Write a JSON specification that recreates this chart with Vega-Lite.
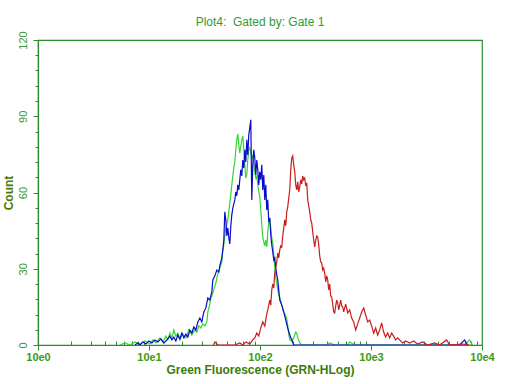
{
  "$schema": "https://vega.github.io/schema/vega-lite/v6.json",
  "width": 444,
  "height": 305,
  "autosize": {"type": "none"},
  "padding": {"left": 38, "top": 40, "right": 30, "bottom": 39},
  "background": "white",
  "title": {
    "text": "Plot4:\u00a0 Gated by: Gate 1",
    "font": "Liberation Sans",
    "fontSize": 12,
    "fontWeight": "normal",
    "color": "#339933",
    "anchor": "middle",
    "offset": 2
  },
  "config": {
    "view": {"stroke": "#2e8b2e", "strokeWidth": 1.2},
    "axis": {"domainColor": "#2e8b2e", "tickColor": "#2e8b2e", "grid": false, "domainWidth": 1.2, "tickWidth": 1}
  },
  "data": {
    "values": [
      {"series": "green", "log10_GRN": 0.738, "count": 0},
      {"series": "green", "log10_GRN": 0.783, "count": 0.8},
      {"series": "green", "log10_GRN": 0.828, "count": 0},
      {"series": "green", "log10_GRN": 0.873, "count": 1.2},
      {"series": "green", "log10_GRN": 0.918, "count": 0.4},
      {"series": "green", "log10_GRN": 0.963, "count": 1.6},
      {"series": "green", "log10_GRN": 1.008, "count": 0.4},
      {"series": "green", "log10_GRN": 1.035, "count": 2.0},
      {"series": "green", "log10_GRN": 1.062, "count": 0.8},
      {"series": "green", "log10_GRN": 1.098, "count": 2.8},
      {"series": "green", "log10_GRN": 1.125, "count": 1.2},
      {"series": "green", "log10_GRN": 1.152, "count": 3.5},
      {"series": "green", "log10_GRN": 1.170, "count": 2.0},
      {"series": "green", "log10_GRN": 1.188, "count": 4.7},
      {"series": "green", "log10_GRN": 1.206, "count": 2.8},
      {"series": "green", "log10_GRN": 1.224, "count": 5.9},
      {"series": "green", "log10_GRN": 1.242, "count": 3.5},
      {"series": "green", "log10_GRN": 1.260, "count": 4.7},
      {"series": "green", "log10_GRN": 1.278, "count": 2.0},
      {"series": "green", "log10_GRN": 1.305, "count": 4.3},
      {"series": "green", "log10_GRN": 1.332, "count": 2.8},
      {"series": "green", "log10_GRN": 1.359, "count": 5.9},
      {"series": "green", "log10_GRN": 1.386, "count": 3.9},
      {"series": "green", "log10_GRN": 1.413, "count": 5.9},
      {"series": "green", "log10_GRN": 1.431, "count": 5.1},
      {"series": "green", "log10_GRN": 1.449, "count": 7.5},
      {"series": "green", "log10_GRN": 1.467, "count": 6.7},
      {"series": "green", "log10_GRN": 1.485, "count": 8.3},
      {"series": "green", "log10_GRN": 1.503, "count": 7.5},
      {"series": "green", "log10_GRN": 1.521, "count": 9.1},
      {"series": "green", "log10_GRN": 1.530, "count": 13.0},
      {"series": "green", "log10_GRN": 1.548, "count": 16.1},
      {"series": "green", "log10_GRN": 1.557, "count": 18.5},
      {"series": "green", "log10_GRN": 1.566, "count": 19.3},
      {"series": "green", "log10_GRN": 1.584, "count": 21.7},
      {"series": "green", "log10_GRN": 1.602, "count": 24.4},
      {"series": "green", "log10_GRN": 1.620, "count": 28.0},
      {"series": "green", "log10_GRN": 1.638, "count": 30.3},
      {"series": "green", "log10_GRN": 1.656, "count": 32.7},
      {"series": "green", "log10_GRN": 1.665, "count": 37.4},
      {"series": "green", "log10_GRN": 1.674, "count": 39.4},
      {"series": "green", "log10_GRN": 1.683, "count": 42.9},
      {"series": "green", "log10_GRN": 1.692, "count": 46.1},
      {"series": "green", "log10_GRN": 1.701, "count": 47.6},
      {"series": "green", "log10_GRN": 1.710, "count": 49.2},
      {"series": "green", "log10_GRN": 1.719, "count": 52.4},
      {"series": "green", "log10_GRN": 1.728, "count": 55.9},
      {"series": "green", "log10_GRN": 1.737, "count": 59.1},
      {"series": "green", "log10_GRN": 1.746, "count": 63.0},
      {"series": "green", "log10_GRN": 1.755, "count": 66.5},
      {"series": "green", "log10_GRN": 1.764, "count": 69.7},
      {"series": "green", "log10_GRN": 1.773, "count": 72.0},
      {"series": "green", "log10_GRN": 1.782, "count": 76.8},
      {"series": "green", "log10_GRN": 1.791, "count": 80.7},
      {"series": "green", "log10_GRN": 1.800, "count": 83.1},
      {"series": "green", "log10_GRN": 1.809, "count": 78.7},
      {"series": "green", "log10_GRN": 1.818, "count": 75.6},
      {"series": "green", "log10_GRN": 1.827, "count": 78.3},
      {"series": "green", "log10_GRN": 1.836, "count": 80.7},
      {"series": "green", "log10_GRN": 1.845, "count": 82.3},
      {"series": "green", "log10_GRN": 1.854, "count": 76.8},
      {"series": "green", "log10_GRN": 1.863, "count": 70.9},
      {"series": "green", "log10_GRN": 1.872, "count": 65.7},
      {"series": "green", "log10_GRN": 1.881, "count": 66.9},
      {"series": "green", "log10_GRN": 1.890, "count": 72.8},
      {"series": "green", "log10_GRN": 1.899, "count": 76.8},
      {"series": "green", "log10_GRN": 1.908, "count": 77.6},
      {"series": "green", "log10_GRN": 1.917, "count": 76.0},
      {"series": "green", "log10_GRN": 1.926, "count": 73.6},
      {"series": "green", "log10_GRN": 1.935, "count": 74.4},
      {"series": "green", "log10_GRN": 1.944, "count": 70.9},
      {"series": "green", "log10_GRN": 1.953, "count": 68.1},
      {"series": "green", "log10_GRN": 1.962, "count": 65.7},
      {"series": "green", "log10_GRN": 1.971, "count": 66.5},
      {"series": "green", "log10_GRN": 1.980, "count": 63.0},
      {"series": "green", "log10_GRN": 1.989, "count": 60.2},
      {"series": "green", "log10_GRN": 1.998, "count": 58.3},
      {"series": "green", "log10_GRN": 2.007, "count": 53.1},
      {"series": "green", "log10_GRN": 2.016, "count": 47.2},
      {"series": "green", "log10_GRN": 2.025, "count": 42.5},
      {"series": "green", "log10_GRN": 2.034, "count": 40.6},
      {"series": "green", "log10_GRN": 2.043, "count": 39.0},
      {"series": "green", "log10_GRN": 2.052, "count": 41.3},
      {"series": "green", "log10_GRN": 2.061, "count": 38.6},
      {"series": "green", "log10_GRN": 2.070, "count": 44.5},
      {"series": "green", "log10_GRN": 2.079, "count": 48.4},
      {"series": "green", "log10_GRN": 2.088, "count": 49.2},
      {"series": "green", "log10_GRN": 2.097, "count": 46.1},
      {"series": "green", "log10_GRN": 2.106, "count": 42.1},
      {"series": "green", "log10_GRN": 2.115, "count": 40.2},
      {"series": "green", "log10_GRN": 2.124, "count": 35.4},
      {"series": "green", "log10_GRN": 2.133, "count": 30.3},
      {"series": "green", "log10_GRN": 2.142, "count": 26.4},
      {"series": "green", "log10_GRN": 2.151, "count": 24.4},
      {"series": "green", "log10_GRN": 2.160, "count": 21.7},
      {"series": "green", "log10_GRN": 2.169, "count": 19.7},
      {"series": "green", "log10_GRN": 2.178, "count": 18.9},
      {"series": "green", "log10_GRN": 2.196, "count": 15.7},
      {"series": "green", "log10_GRN": 2.214, "count": 13.0},
      {"series": "green", "log10_GRN": 2.232, "count": 11.4},
      {"series": "green", "log10_GRN": 2.241, "count": 10.6},
      {"series": "green", "log10_GRN": 2.250, "count": 7.5},
      {"series": "green", "log10_GRN": 2.259, "count": 4.3},
      {"series": "green", "log10_GRN": 2.268, "count": 2.0},
      {"series": "green", "log10_GRN": 2.286, "count": 1.6},
      {"series": "green", "log10_GRN": 2.304, "count": 2.8},
      {"series": "green", "log10_GRN": 2.322, "count": 5.1},
      {"series": "green", "log10_GRN": 2.331, "count": 4.7},
      {"series": "green", "log10_GRN": 2.340, "count": 2.8},
      {"series": "green", "log10_GRN": 2.358, "count": 0.8},
      {"series": "green", "log10_GRN": 2.376, "count": 0},
      {"series": "green", "log10_GRN": 2.600, "count": 0},
      {"series": "green", "log10_GRN": 2.628, "count": 0.8},
      {"series": "green", "log10_GRN": 2.673, "count": 0},
      {"series": "green", "log10_GRN": 2.790, "count": 0},
      {"series": "green", "log10_GRN": 2.808, "count": 1.2},
      {"series": "green", "log10_GRN": 2.853, "count": 0},
      {"series": "green", "log10_GRN": 3.843, "count": 0},
      {"series": "green", "log10_GRN": 3.888, "count": 2.0},
      {"series": "green", "log10_GRN": 3.915, "count": 0},
      {"series": "blue", "log10_GRN": 0.873, "count": 0},
      {"series": "blue", "log10_GRN": 0.900, "count": 0.8},
      {"series": "blue", "log10_GRN": 0.918, "count": 0},
      {"series": "blue", "log10_GRN": 0.945, "count": 1.2},
      {"series": "blue", "log10_GRN": 0.972, "count": 0.4},
      {"series": "blue", "log10_GRN": 0.999, "count": 1.6},
      {"series": "blue", "log10_GRN": 1.026, "count": 0.8},
      {"series": "blue", "log10_GRN": 1.053, "count": 2.0},
      {"series": "blue", "log10_GRN": 1.080, "count": 1.2},
      {"series": "blue", "log10_GRN": 1.107, "count": 2.4},
      {"series": "blue", "log10_GRN": 1.134, "count": 0.8},
      {"series": "blue", "log10_GRN": 1.161, "count": 2.0},
      {"series": "blue", "log10_GRN": 1.188, "count": 3.5},
      {"series": "blue", "log10_GRN": 1.206, "count": 2.0},
      {"series": "blue", "log10_GRN": 1.224, "count": 3.1},
      {"series": "blue", "log10_GRN": 1.242, "count": 1.6},
      {"series": "blue", "log10_GRN": 1.260, "count": 3.9},
      {"series": "blue", "log10_GRN": 1.278, "count": 2.4},
      {"series": "blue", "log10_GRN": 1.296, "count": 4.7},
      {"series": "blue", "log10_GRN": 1.314, "count": 2.8},
      {"series": "blue", "log10_GRN": 1.332, "count": 4.3},
      {"series": "blue", "log10_GRN": 1.350, "count": 3.1},
      {"series": "blue", "log10_GRN": 1.368, "count": 5.9},
      {"series": "blue", "log10_GRN": 1.386, "count": 4.7},
      {"series": "blue", "log10_GRN": 1.404, "count": 7.1},
      {"series": "blue", "log10_GRN": 1.422, "count": 5.9},
      {"series": "blue", "log10_GRN": 1.440, "count": 9.1},
      {"series": "blue", "log10_GRN": 1.458, "count": 10.6},
      {"series": "blue", "log10_GRN": 1.476, "count": 9.1},
      {"series": "blue", "log10_GRN": 1.494, "count": 13.0},
      {"series": "blue", "log10_GRN": 1.512, "count": 14.6},
      {"series": "blue", "log10_GRN": 1.530, "count": 18.5},
      {"series": "blue", "log10_GRN": 1.548, "count": 17.7},
      {"series": "blue", "log10_GRN": 1.566, "count": 20.9},
      {"series": "blue", "log10_GRN": 1.575, "count": 25.6},
      {"series": "blue", "log10_GRN": 1.593, "count": 27.2},
      {"series": "blue", "log10_GRN": 1.611, "count": 29.5},
      {"series": "blue", "log10_GRN": 1.629, "count": 28.7},
      {"series": "blue", "log10_GRN": 1.638, "count": 31.1},
      {"series": "blue", "log10_GRN": 1.656, "count": 34.3},
      {"series": "blue", "log10_GRN": 1.665, "count": 37.4},
      {"series": "blue", "log10_GRN": 1.674, "count": 41.3},
      {"series": "blue", "log10_GRN": 1.683, "count": 52.4},
      {"series": "blue", "log10_GRN": 1.692, "count": 49.2},
      {"series": "blue", "log10_GRN": 1.701, "count": 42.9},
      {"series": "blue", "log10_GRN": 1.710, "count": 46.1},
      {"series": "blue", "log10_GRN": 1.719, "count": 42.1},
      {"series": "blue", "log10_GRN": 1.728, "count": 39.8},
      {"series": "blue", "log10_GRN": 1.737, "count": 46.9},
      {"series": "blue", "log10_GRN": 1.746, "count": 51.2},
      {"series": "blue", "log10_GRN": 1.755, "count": 53.9},
      {"series": "blue", "log10_GRN": 1.773, "count": 57.1},
      {"series": "blue", "log10_GRN": 1.782, "count": 60.2},
      {"series": "blue", "log10_GRN": 1.791, "count": 58.7},
      {"series": "blue", "log10_GRN": 1.800, "count": 63.0},
      {"series": "blue", "log10_GRN": 1.809, "count": 61.0},
      {"series": "blue", "log10_GRN": 1.818, "count": 65.0},
      {"series": "blue", "log10_GRN": 1.827, "count": 68.9},
      {"series": "blue", "log10_GRN": 1.836, "count": 66.5},
      {"series": "blue", "log10_GRN": 1.845, "count": 72.8},
      {"series": "blue", "log10_GRN": 1.854, "count": 69.7},
      {"series": "blue", "log10_GRN": 1.863, "count": 76.8},
      {"series": "blue", "log10_GRN": 1.872, "count": 72.0},
      {"series": "blue", "log10_GRN": 1.881, "count": 80.7},
      {"series": "blue", "log10_GRN": 1.890, "count": 74.8},
      {"series": "blue", "log10_GRN": 1.899, "count": 82.7},
      {"series": "blue", "log10_GRN": 1.908, "count": 85.4},
      {"series": "blue", "log10_GRN": 1.917, "count": 88.6},
      {"series": "blue", "log10_GRN": 1.926, "count": 57.1},
      {"series": "blue", "log10_GRN": 1.935, "count": 70.9},
      {"series": "blue", "log10_GRN": 1.944, "count": 76.8},
      {"series": "blue", "log10_GRN": 1.953, "count": 73.6},
      {"series": "blue", "log10_GRN": 1.962, "count": 66.9},
      {"series": "blue", "log10_GRN": 1.971, "count": 72.8},
      {"series": "blue", "log10_GRN": 1.980, "count": 68.9},
      {"series": "blue", "log10_GRN": 1.989, "count": 63.0},
      {"series": "blue", "log10_GRN": 1.998, "count": 68.1},
      {"series": "blue", "log10_GRN": 2.007, "count": 65.0},
      {"series": "blue", "log10_GRN": 2.016, "count": 70.9},
      {"series": "blue", "log10_GRN": 2.025, "count": 61.0},
      {"series": "blue", "log10_GRN": 2.034, "count": 66.9},
      {"series": "blue", "log10_GRN": 2.043, "count": 57.1},
      {"series": "blue", "log10_GRN": 2.052, "count": 63.0},
      {"series": "blue", "log10_GRN": 2.061, "count": 53.1},
      {"series": "blue", "log10_GRN": 2.070, "count": 57.1},
      {"series": "blue", "log10_GRN": 2.079, "count": 48.4},
      {"series": "blue", "log10_GRN": 2.088, "count": 50.0},
      {"series": "blue", "log10_GRN": 2.097, "count": 43.3},
      {"series": "blue", "log10_GRN": 2.106, "count": 39.4},
      {"series": "blue", "log10_GRN": 2.115, "count": 36.6},
      {"series": "blue", "log10_GRN": 2.124, "count": 33.5},
      {"series": "blue", "log10_GRN": 2.133, "count": 34.3},
      {"series": "blue", "log10_GRN": 2.142, "count": 30.3},
      {"series": "blue", "log10_GRN": 2.151, "count": 27.6},
      {"series": "blue", "log10_GRN": 2.160, "count": 25.6},
      {"series": "blue", "log10_GRN": 2.169, "count": 21.7},
      {"series": "blue", "log10_GRN": 2.178, "count": 17.7},
      {"series": "blue", "log10_GRN": 2.196, "count": 15.7},
      {"series": "blue", "log10_GRN": 2.214, "count": 13.0},
      {"series": "blue", "log10_GRN": 2.232, "count": 9.8},
      {"series": "blue", "log10_GRN": 2.250, "count": 6.7},
      {"series": "blue", "log10_GRN": 2.268, "count": 3.9},
      {"series": "blue", "log10_GRN": 2.286, "count": 2.0},
      {"series": "blue", "log10_GRN": 2.304, "count": 0},
      {"series": "blue", "log10_GRN": 3.798, "count": 0},
      {"series": "blue", "log10_GRN": 3.843, "count": 2.0},
      {"series": "blue", "log10_GRN": 3.870, "count": 0},
      {"series": "red", "log10_GRN": 1.580, "count": 0},
      {"series": "red", "log10_GRN": 1.593, "count": 1.2},
      {"series": "red", "log10_GRN": 1.620, "count": 0},
      {"series": "red", "log10_GRN": 1.773, "count": 0},
      {"series": "red", "log10_GRN": 1.818, "count": 0.8},
      {"series": "red", "log10_GRN": 1.845, "count": 0},
      {"series": "red", "log10_GRN": 1.872, "count": 1.2},
      {"series": "red", "log10_GRN": 1.908, "count": 0.4},
      {"series": "red", "log10_GRN": 1.935, "count": 2.0},
      {"series": "red", "log10_GRN": 1.953, "count": 2.8},
      {"series": "red", "log10_GRN": 1.971, "count": 4.7},
      {"series": "red", "log10_GRN": 1.989, "count": 3.5},
      {"series": "red", "log10_GRN": 2.007, "count": 6.7},
      {"series": "red", "log10_GRN": 2.025, "count": 9.1},
      {"series": "red", "log10_GRN": 2.043, "count": 7.5},
      {"series": "red", "log10_GRN": 2.061, "count": 12.2},
      {"series": "red", "log10_GRN": 2.070, "count": 13.8},
      {"series": "red", "log10_GRN": 2.088, "count": 17.7},
      {"series": "red", "log10_GRN": 2.097, "count": 15.7},
      {"series": "red", "log10_GRN": 2.106, "count": 21.7},
      {"series": "red", "log10_GRN": 2.115, "count": 24.0},
      {"series": "red", "log10_GRN": 2.124, "count": 22.4},
      {"series": "red", "log10_GRN": 2.133, "count": 28.3},
      {"series": "red", "log10_GRN": 2.142, "count": 30.3},
      {"series": "red", "log10_GRN": 2.151, "count": 32.7},
      {"series": "red", "log10_GRN": 2.160, "count": 36.2},
      {"series": "red", "log10_GRN": 2.169, "count": 34.3},
      {"series": "red", "log10_GRN": 2.178, "count": 37.4},
      {"series": "red", "log10_GRN": 2.187, "count": 39.0},
      {"series": "red", "log10_GRN": 2.196, "count": 38.6},
      {"series": "red", "log10_GRN": 2.205, "count": 42.9},
      {"series": "red", "log10_GRN": 2.214, "count": 46.1},
      {"series": "red", "log10_GRN": 2.223, "count": 49.2},
      {"series": "red", "log10_GRN": 2.232, "count": 46.9},
      {"series": "red", "log10_GRN": 2.241, "count": 52.4},
      {"series": "red", "log10_GRN": 2.250, "count": 54.3},
      {"series": "red", "log10_GRN": 2.259, "count": 57.9},
      {"series": "red", "log10_GRN": 2.268, "count": 61.0},
      {"series": "red", "log10_GRN": 2.277, "count": 68.9},
      {"series": "red", "log10_GRN": 2.286, "count": 73.6},
      {"series": "red", "log10_GRN": 2.295, "count": 74.4},
      {"series": "red", "log10_GRN": 2.304, "count": 70.9},
      {"series": "red", "log10_GRN": 2.313, "count": 68.1},
      {"series": "red", "log10_GRN": 2.322, "count": 63.0},
      {"series": "red", "log10_GRN": 2.331, "count": 61.0},
      {"series": "red", "log10_GRN": 2.340, "count": 64.2},
      {"series": "red", "log10_GRN": 2.349, "count": 60.2},
      {"series": "red", "log10_GRN": 2.358, "count": 62.2},
      {"series": "red", "log10_GRN": 2.367, "count": 65.0},
      {"series": "red", "log10_GRN": 2.376, "count": 63.4},
      {"series": "red", "log10_GRN": 2.385, "count": 66.5},
      {"series": "red", "log10_GRN": 2.394, "count": 65.0},
      {"series": "red", "log10_GRN": 2.403, "count": 65.7},
      {"series": "red", "log10_GRN": 2.412, "count": 62.6},
      {"series": "red", "log10_GRN": 2.421, "count": 63.8},
      {"series": "red", "log10_GRN": 2.430, "count": 57.1},
      {"series": "red", "log10_GRN": 2.439, "count": 54.7},
      {"series": "red", "log10_GRN": 2.448, "count": 52.4},
      {"series": "red", "log10_GRN": 2.457, "count": 49.2},
      {"series": "red", "log10_GRN": 2.466, "count": 48.0},
      {"series": "red", "log10_GRN": 2.475, "count": 44.5},
      {"series": "red", "log10_GRN": 2.484, "count": 41.3},
      {"series": "red", "log10_GRN": 2.493, "count": 38.6},
      {"series": "red", "log10_GRN": 2.502, "count": 41.3},
      {"series": "red", "log10_GRN": 2.511, "count": 42.9},
      {"series": "red", "log10_GRN": 2.520, "count": 42.5},
      {"series": "red", "log10_GRN": 2.529, "count": 39.4},
      {"series": "red", "log10_GRN": 2.538, "count": 35.0},
      {"series": "red", "log10_GRN": 2.547, "count": 32.7},
      {"series": "red", "log10_GRN": 2.556, "count": 32.3},
      {"series": "red", "log10_GRN": 2.565, "count": 29.5},
      {"series": "red", "log10_GRN": 2.574, "count": 30.3},
      {"series": "red", "log10_GRN": 2.583, "count": 28.3},
      {"series": "red", "log10_GRN": 2.592, "count": 24.8},
      {"series": "red", "log10_GRN": 2.601, "count": 27.2},
      {"series": "red", "log10_GRN": 2.610, "count": 25.6},
      {"series": "red", "log10_GRN": 2.619, "count": 21.7},
      {"series": "red", "log10_GRN": 2.628, "count": 24.0},
      {"series": "red", "log10_GRN": 2.637, "count": 19.3},
      {"series": "red", "log10_GRN": 2.646, "count": 18.9},
      {"series": "red", "log10_GRN": 2.655, "count": 16.1},
      {"series": "red", "log10_GRN": 2.664, "count": 13.0},
      {"series": "red", "log10_GRN": 2.673, "count": 12.6},
      {"series": "red", "log10_GRN": 2.682, "count": 15.4},
      {"series": "red", "log10_GRN": 2.691, "count": 17.7},
      {"series": "red", "log10_GRN": 2.700, "count": 16.5},
      {"series": "red", "log10_GRN": 2.709, "count": 13.8},
      {"series": "red", "log10_GRN": 2.718, "count": 15.7},
      {"series": "red", "log10_GRN": 2.727, "count": 17.7},
      {"series": "red", "log10_GRN": 2.736, "count": 15.4},
      {"series": "red", "log10_GRN": 2.745, "count": 15.0},
      {"series": "red", "log10_GRN": 2.754, "count": 13.0},
      {"series": "red", "log10_GRN": 2.772, "count": 16.1},
      {"series": "red", "log10_GRN": 2.790, "count": 12.6},
      {"series": "red", "log10_GRN": 2.808, "count": 13.8},
      {"series": "red", "log10_GRN": 2.826, "count": 10.6},
      {"series": "red", "log10_GRN": 2.844, "count": 9.1},
      {"series": "red", "log10_GRN": 2.862, "count": 5.9},
      {"series": "red", "log10_GRN": 2.880, "count": 8.3},
      {"series": "red", "log10_GRN": 2.898, "count": 10.6},
      {"series": "red", "log10_GRN": 2.916, "count": 13.0},
      {"series": "red", "log10_GRN": 2.934, "count": 14.6},
      {"series": "red", "log10_GRN": 2.952, "count": 11.8},
      {"series": "red", "log10_GRN": 2.970, "count": 9.1},
      {"series": "red", "log10_GRN": 2.988, "count": 9.8},
      {"series": "red", "log10_GRN": 3.006, "count": 7.5},
      {"series": "red", "log10_GRN": 3.024, "count": 4.7},
      {"series": "red", "log10_GRN": 3.042, "count": 6.7},
      {"series": "red", "log10_GRN": 3.060, "count": 3.9},
      {"series": "red", "log10_GRN": 3.078, "count": 5.9},
      {"series": "red", "log10_GRN": 3.096, "count": 8.7},
      {"series": "red", "log10_GRN": 3.114, "count": 5.1},
      {"series": "red", "log10_GRN": 3.132, "count": 3.1},
      {"series": "red", "log10_GRN": 3.150, "count": 4.7},
      {"series": "red", "log10_GRN": 3.168, "count": 2.8},
      {"series": "red", "log10_GRN": 3.186, "count": 4.7},
      {"series": "red", "log10_GRN": 3.204, "count": 3.5},
      {"series": "red", "log10_GRN": 3.222, "count": 2.0},
      {"series": "red", "log10_GRN": 3.240, "count": 2.8},
      {"series": "red", "log10_GRN": 3.258, "count": 2.0},
      {"series": "red", "log10_GRN": 3.285, "count": 0.8},
      {"series": "red", "log10_GRN": 3.312, "count": 1.6},
      {"series": "red", "log10_GRN": 3.348, "count": 0.8},
      {"series": "red", "log10_GRN": 3.384, "count": 1.6},
      {"series": "red", "log10_GRN": 3.420, "count": 0.4},
      {"series": "red", "log10_GRN": 3.465, "count": 1.2},
      {"series": "red", "log10_GRN": 3.510, "count": 0},
      {"series": "red", "log10_GRN": 3.573, "count": 0.8},
      {"series": "red", "log10_GRN": 3.618, "count": 0},
      {"series": "red", "log10_GRN": 3.681, "count": 2.0},
      {"series": "red", "log10_GRN": 3.708, "count": 0},
      {"series": "red", "log10_GRN": 3.825, "count": 0.4},
      {"series": "red", "log10_GRN": 3.888, "count": 0}
    ]
  },
  "mark": {"type": "line", "strokeWidth": 1.2, "interpolate": "linear", "clip": true},
  "encoding": {
    "x": {
      "field": "log10_GRN",
      "type": "quantitative",
      "scale": {"domain": [0, 4], "nice": false, "zero": false},
      "axis": {
        "title": "Green Fluorescence (GRN-HLog)",
        "titleFont": "Liberation Sans",
        "titleFontSize": 12,
        "titleFontWeight": "bold",
        "titleColor": "#3a7d0a",
        "titlePadding": 2,
        "values": [0, 0.30103, 0.47712, 0.60206, 0.69897, 0.77815, 0.8451, 0.90309, 0.95424,
                   1, 1.30103, 1.47712, 1.60206, 1.69897, 1.77815, 1.8451, 1.90309, 1.95424,
                   2, 2.30103, 2.47712, 2.60206, 2.69897, 2.77815, 2.8451, 2.90309, 2.95424,
                   3, 3.30103, 3.47712, 3.60206, 3.69897, 3.77815, 3.8451, 3.90309, 3.95424, 4],
        "labelExpr": "datum.value % 1 === 0 ? '10e' + datum.value : ''",
        "labelFont": "Liberation Sans",
        "labelFontSize": 11,
        "labelFontWeight": "bold",
        "labelColor": "#3c9a14",
        "labelPadding": 1,
        "labelFlush": false,
        "labelOverlap": false,
        "tickSize": {"condition": {"test": "datum.value % 1 === 0", "value": 5}, "value": -4}
      }
    },
    "y": {
      "field": "count",
      "type": "quantitative",
      "scale": {"domain": [0, 120], "nice": false},
      "axis": {
        "title": "Count",
        "titleFont": "Liberation Sans",
        "titleFontSize": 12,
        "titleFontWeight": "bold",
        "titleColor": "#4a7a00",
        "titlePadding": 2,
        "values": [0, 6, 12, 18, 24, 30, 36, 42, 48, 54, 60, 66, 72, 78, 84, 90, 96, 102, 108, 114, 120],
        "labelExpr": "datum.value % 30 === 0 ? datum.label : ''",
        "labelFont": "Liberation Sans",
        "labelFontSize": 11,
        "labelColor": "#3c9a3c",
        "labelAngle": 270,
        "labelAlign": "center",
        "labelBaseline": "bottom",
        "labelPadding": 5,
        "labelOverlap": false,
        "labelFlush": false,
        "tickSize": {"condition": {"test": "datum.value % 30 === 0", "value": 5}, "value": 3}
      }
    },
    "color": {
      "field": "series",
      "type": "nominal",
      "scale": {"domain": ["green", "blue", "red"], "range": ["#33d633", "#0a0acd", "#c81e1e"]},
      "legend": null
    }
  }
}
